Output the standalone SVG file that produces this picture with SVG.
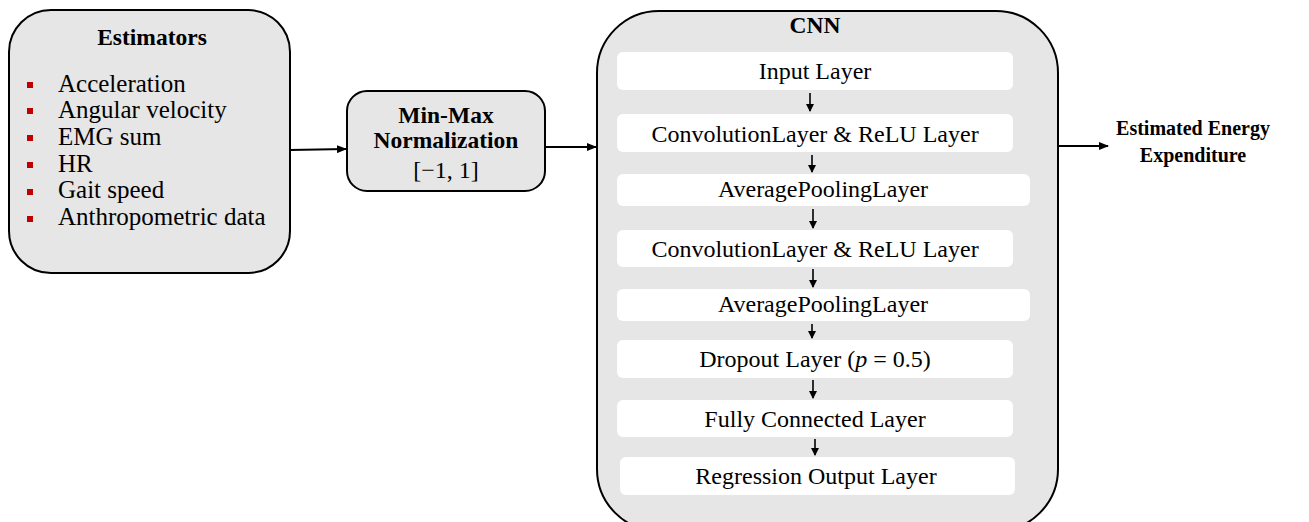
<svg xmlns="http://www.w3.org/2000/svg" width="1309" height="522" viewBox="0 0 1309 522">
<defs>
<marker id="ah" markerWidth="10" markerHeight="8" refX="9" refY="4" orient="auto" markerUnits="userSpaceOnUse"><path d="M0,0 L10,4 L0,8 Z" fill="#000"/></marker>
<marker id="ahs" markerWidth="8" markerHeight="9" refX="7" refY="4.5" orient="auto" markerUnits="userSpaceOnUse"><path d="M0,0.5 L8,4.5 L0,8.5 Z" fill="#000"/></marker>
</defs>
<style>
.box{fill:#e6e6e6;stroke:#000;stroke-width:2}
.layer{fill:#fff;stroke:none}
text{font-family:"Liberation Serif","DejaVu Serif",serif;fill:#000}
.t{font-size:24px}
.l{font-size:25px}
.b{font-size:23.5px;font-weight:bold}
.o{font-size:20px;font-weight:bold}
.c{text-anchor:middle}
.bul{fill:#c00000}
.ln{stroke:#000;stroke-width:2;fill:none}
.sl{stroke:#000;stroke-width:1.6;fill:none}
</style>
<g id="estimators">
<rect class="box" x="9" y="10" width="281" height="263" rx="42"/>
<text class="b c" x="152" y="45">Estimators</text>
<rect class="bul" x="27" y="82" width="6" height="6"/>
<rect class="bul" x="27" y="108" width="6" height="6"/>
<rect class="bul" x="27" y="135" width="6" height="6"/>
<rect class="bul" x="27" y="162" width="6" height="6"/>
<rect class="bul" x="27" y="189" width="6" height="6"/>
<rect class="bul" x="27" y="216" width="6" height="6"/>
<text class="l" x="58" y="92">Acceleration</text>
<text class="l" x="58" y="118">Angular velocity</text>
<text class="l" x="58" y="145">EMG sum</text>
<text class="l" x="58" y="172">HR</text>
<text class="l" x="58" y="198">Gait speed</text>
<text class="l" x="58" y="225">Anthropometric data</text>
</g>
<g id="minmax">
<rect class="box" x="347" y="91" width="198" height="100" rx="20"/>
<text class="b c" x="446" y="123">Min-Max</text>
<text class="b c" x="446" y="148">Normalization</text>
<text class="t c" x="446" y="178">[−1, 1]</text>
</g>
<g id="cnn">
<rect class="box" x="597" y="11" width="461" height="520" rx="62"/>
<text class="b c" x="815" y="33">CNN</text>
</g>
<g id="input-layer"><rect class="layer" x="617" y="52" width="396" height="38" rx="6"/><text class="t c" x="815" y="79">Input Layer</text></g>
<g id="conv1"><rect class="layer" x="617" y="114" width="396" height="38" rx="6"/><text class="t c" x="815" y="142">ConvolutionLayer &amp; ReLU Layer</text></g>
<g id="pool1"><rect class="layer" x="617" y="174" width="413" height="32" rx="6"/><text class="t c" x="823" y="197">AveragePoolingLayer</text></g>
<g id="conv2"><rect class="layer" x="617" y="230" width="396" height="37" rx="6"/><text class="t c" x="815" y="257">ConvolutionLayer &amp; ReLU Layer</text></g>
<g id="pool2"><rect class="layer" x="617" y="289" width="413" height="32" rx="6"/><text class="t c" x="823" y="312">AveragePoolingLayer</text></g>
<g id="dropout"><rect class="layer" x="617" y="340" width="396" height="38" rx="6"/><text class="t c" x="815" y="367">Dropout Layer (<tspan font-style="italic">p</tspan> = 0.5)</text></g>
<g id="fc"><rect class="layer" x="617" y="400" width="396" height="37" rx="6"/><text class="t c" x="815" y="427">Fully Connected Layer</text></g>
<g id="regression"><rect class="layer" x="620" y="457" width="395" height="38" rx="6"/><text class="t c" x="816" y="484">Regression Output Layer</text></g>
<g id="output"><text class="o c" x="1193" y="135">Estimated Energy</text><text class="o c" x="1193" y="162">Expenditure</text></g>
<g id="connectors">
<line class="ln" x1="290" y1="150" x2="346" y2="149" marker-end="url(#ah)"/>
<line class="ln" x1="545" y1="147" x2="596" y2="147" marker-end="url(#ah)"/>
<line class="ln" x1="1058" y1="146" x2="1108" y2="146" marker-end="url(#ah)"/>
<line class="sl" x1="810" y1="93" x2="810" y2="111" marker-end="url(#ahs)"/>
<line class="sl" x1="812" y1="155" x2="812" y2="172" marker-end="url(#ahs)"/>
<line class="sl" x1="813" y1="209" x2="813" y2="228" marker-end="url(#ahs)"/>
<line class="sl" x1="813" y1="269" x2="813" y2="287" marker-end="url(#ahs)"/>
<line class="sl" x1="812" y1="324" x2="812" y2="338" marker-end="url(#ahs)"/>
<line class="sl" x1="813" y1="380" x2="813" y2="398" marker-end="url(#ahs)"/>
<line class="sl" x1="815" y1="439" x2="815" y2="455" marker-end="url(#ahs)"/>
</g>
</svg>
